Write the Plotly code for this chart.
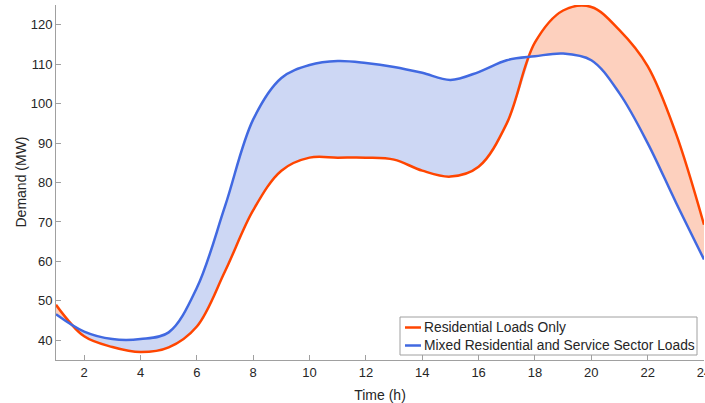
import plotly.graph_objects as go

hours = list(range(1, 25))
residential = [49.0, 41.0, 38.3, 37.0, 38.2, 43.5, 57.5, 73.0, 83.0, 86.3, 86.3, 86.3,
               85.8, 83.0, 81.5, 84.0, 95.0, 115.5, 123.6, 124.5, 118.6, 109.5, 92.5, 69.3]
mixed = [46.6, 42.2, 40.3, 40.3, 42.0, 53.3, 74.0, 96.0, 106.5, 109.8, 110.8, 110.3,
         109.3, 107.8, 106.0, 108.0, 111.0, 112.0, 112.7, 111.0, 102.6, 90.0, 75.0, 60.5]

res_name = "Residential Loads Only"
mix_name = "Mixed Residential and Service Sector Loads"
res_color = "#FF4500"
mix_color = "#4169E1"
res_fill = "#FDD0BE"
mix_fill = "#CDD7F4"

# plot area geometry (px)
L, R, T, B = 56, 1, 5, 43
W, H = 705, 403
PW, PH = W - L - R, H - T - B


def px_x(p):
    return (p - L) / PW


def px_y(p):
    return (H - B - p) / PH


fig = go.Figure()

# split into regions by crossing points
regions = []
cur_x = [hours[0]]
cur_r = [residential[0]]
cur_m = [mixed[0]]
for i in range(1, len(hours)):
    d0 = residential[i - 1] - mixed[i - 1]
    d1 = residential[i] - mixed[i]
    if d0 * d1 < 0:
        t = d0 / (d0 - d1)
        xc = hours[i - 1] + t * (hours[i] - hours[i - 1])
        yc = residential[i - 1] + t * (residential[i] - residential[i - 1])
        cur_x.append(xc); cur_r.append(yc); cur_m.append(yc)
        regions.append((cur_x, cur_r, cur_m, d0))
        cur_x = [xc]; cur_r = [yc]; cur_m = [yc]
    cur_x.append(hours[i]); cur_r.append(residential[i]); cur_m.append(mixed[i])
regions.append((cur_x, cur_r, cur_m, residential[-1] - mixed[-1]))

for xs, rs, ms, sign in regions:
    fc = res_fill if sign > 0 else mix_fill
    fig.add_trace(go.Scatter(x=xs, y=ms, mode="lines", line=dict(width=0, shape="spline"),
                             showlegend=False, hoverinfo="skip"))
    fig.add_trace(go.Scatter(x=xs, y=rs, mode="lines", line=dict(width=0, shape="spline"),
                             fill="tonexty", fillcolor=fc, showlegend=False, hoverinfo="skip"))

fig.add_trace(go.Scatter(x=hours, y=residential, mode="lines", name=res_name,
                         showlegend=False,
                         line=dict(color=res_color, width=2.5, shape="spline")))
fig.add_trace(go.Scatter(x=hours, y=mixed, mode="lines", name=mix_name,
                         showlegend=False,
                         line=dict(color=mix_color, width=2.5, shape="spline")))

axis_common = dict(showgrid=False, zeroline=False, showline=True, linecolor="#A0A0A0",
                   linewidth=1, ticks="inside", ticklen=5, tickcolor="#A0A0A0",
                   tickfont=dict(size=13, color="#262626"), mirror=False,
                   automargin=False, ticklabeloverflow="allow")

# custom legend box (matches the reference's compact legend)
leg_x0, leg_x1, leg_y0, leg_y1 = 400, 697, 317, 355
fig.add_shape(type="rect", xref="paper", yref="paper",
              x0=px_x(leg_x0), x1=px_x(leg_x1), y0=px_y(leg_y1), y1=px_y(leg_y0),
              line=dict(color="#A0A0A0", width=1), fillcolor="white", layer="above")
for name, color, yrow in [(res_name, res_color, 327.5), (mix_name, mix_color, 345.5)]:
    fig.add_shape(type="line", xref="paper", yref="paper",
                  x0=px_x(405), x1=px_x(421), y0=px_y(yrow), y1=px_y(yrow),
                  line=dict(color=color, width=2.5), layer="above")
    fig.add_annotation(xref="paper", yref="paper", x=px_x(422), y=px_y(yrow),
                       text=name, showarrow=False, xanchor="left", yanchor="middle",
                       font=dict(size=13.8, color="#262626"))

# y axis title placed like the reference
fig.add_annotation(xref="paper", yref="paper", x=px_x(20), y=0.5, text="Demand (MW)",
                   textangle=-90, showarrow=False, xanchor="center", yanchor="middle",
                   font=dict(size=14, color="#262626"))

fig.update_layout(
    width=W, height=H,
    margin=dict(l=L, r=R, t=T, b=B),
    paper_bgcolor="white", plot_bgcolor="white",
    font=dict(family="Liberation Sans, Arial, sans-serif", color="#262626"),
    xaxis=dict(range=[1, 24], tickvals=list(range(2, 25, 2)),
               title=dict(text="Time (h)", font=dict(size=14)), **axis_common),
    yaxis=dict(range=[35, 125], tickvals=list(range(40, 121, 10)), **axis_common),
    showlegend=False,
)

fig.write_html("out.html", config={"displayModeBar": False},
               post_script="document.body.style.margin='0px';")
